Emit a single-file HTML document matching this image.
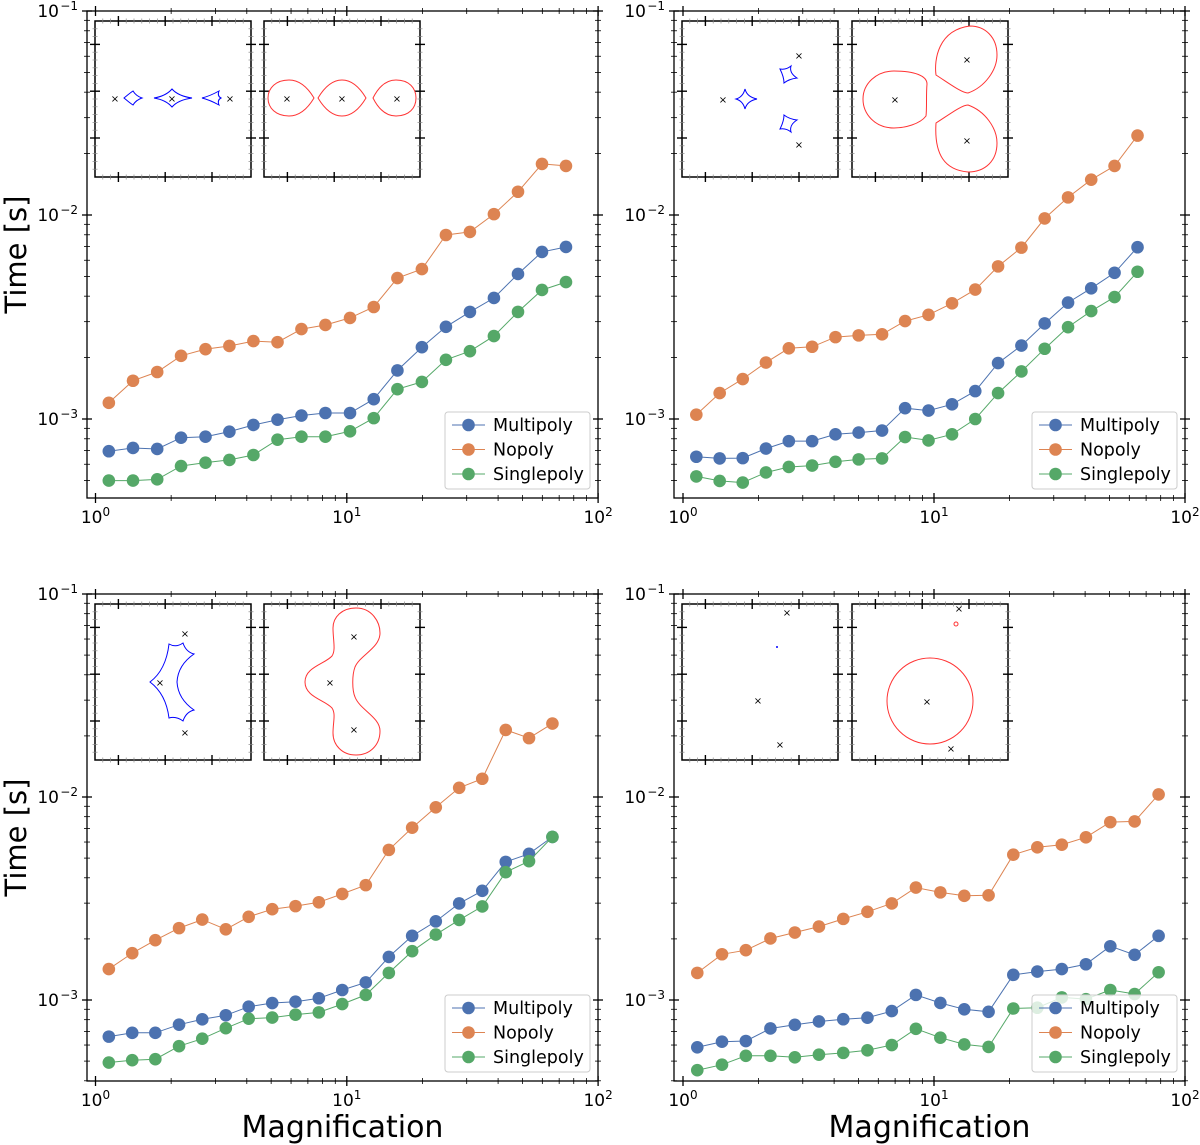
<!DOCTYPE html>
<html><head><meta charset="utf-8"><style>
body{margin:0;background:#fff;}
svg{display:block;font-family:"DejaVu Sans","Liberation Sans",sans-serif;}
</style></head><body>
<svg id="fig" width="1200" height="1145" viewBox="0 0 1200 1145" xmlns="http://www.w3.org/2000/svg">
<rect width="1200" height="1145" fill="#fff"/>
<g id="insets">
 <g>
  <path d="M124,98 Q130,93 133,91 Q136,96 142,98 Q136,100 133,105 Q130,103 124,98 Z" fill="none" stroke="#00f" stroke-width="1"/>
  <path d="M154,98 Q166,96 172,89 Q178,96 192,98 Q178,100 172,107 Q166,100 154,98 Z" fill="none" stroke="#00f" stroke-width="1"/>
  <path d="M202,98 Q210,96 219,91 Q217,96 221,98 Q217,100 219,105 Q210,100 202,98 Z" fill="none" stroke="#00f" stroke-width="1"/>
  <text x="115" y="102" font-size="10" text-anchor="middle">×</text><text x="172" y="102" font-size="10" text-anchor="middle">×</text><text x="230" y="102" font-size="10" text-anchor="middle">×</text>
 </g>
 <g>
  <path d="M314,98 C308,88 300,80 289,80 C276,80 268,88 268,98 C268,108 276,116 289,116 C300,116 308,108 314,98 Z" fill="none" stroke="#f33" stroke-width="1"/>
  <path d="M318,98 C324,88 332,80 342,80 C352,80 360,88 366,98 C360,108 352,116 342,116 C332,116 324,108 318,98 Z" fill="none" stroke="#f33" stroke-width="1"/>
  <path d="M373,98 C378,88 385,80 396,80 C409,80 416,88 416,98 C416,108 409,116 396,116 C385,116 378,108 373,98 Z" fill="none" stroke="#f33" stroke-width="1"/>
  <text x="287" y="102" font-size="10" text-anchor="middle">×</text><text x="342" y="102" font-size="10" text-anchor="middle">×</text><text x="397" y="102" font-size="10" text-anchor="middle">×</text>
 </g>
 <g>
  <path d="M736,99 Q743,97 745,89 Q747,97 757,99 Q747,101 745,109 Q743,101 736,99 Z" fill="none" stroke="#00f" stroke-width="1"/>
  <path d="M780,69 Q786,70 791,66 Q789,73 797,78 Q789,79 784,83 Q784,77 780,69 Z" fill="none" stroke="#00f" stroke-width="1"/>
  <path d="M780,129 Q784,121 784,115 Q789,119 797,120 Q789,125 791,132 Q786,128 780,129 Z" fill="none" stroke="#00f" stroke-width="1"/>
  <text x="723" y="103" font-size="10" text-anchor="middle">×</text><text x="799" y="59" font-size="10" text-anchor="middle">×</text><text x="799" y="148" font-size="10" text-anchor="middle">×</text>
 </g>
 <g>
  <path d="M894,71 C915,71 927,76 927,84 C926,95 927,108 926,116 C920,124 905,128 894,128 C875,128 863,114 863,99 C863,84 876,71 894,71 Z" fill="none" stroke="#f33" stroke-width="1"/>
  <path d="M970,26 C985,26 997,37 997,55 C997,70 985,87 968,93 C962,93 950,84 936,75 C934,60 938,30 970,26 Z" fill="none" stroke="#f33" stroke-width="1"/>
  <path d="M968,105 C985,111 997,128 997,143 C997,161 985,172 968,172 C945,170 934,155 936,123 C950,114 962,105 968,105 Z" fill="none" stroke="#f33" stroke-width="1"/>
  <text x="895" y="103" font-size="10" text-anchor="middle">×</text><text x="967" y="63" font-size="10" text-anchor="middle">×</text><text x="967" y="144" font-size="10" text-anchor="middle">×</text>
 </g>
 <g>
  <path d="M150,682 Q166,670 169,644 Q176,648 183,643 Q186,652 194,654 Q178,665 177,682 Q178,699 194,710 Q186,712 183,721 Q176,716 169,718 Q166,694 150,682 Z" fill="none" stroke="#00f" stroke-width="1"/>
  <text x="185" y="637" font-size="10" text-anchor="middle">×</text><text x="160" y="686" font-size="10" text-anchor="middle">×</text><text x="185" y="736" font-size="10" text-anchor="middle">×</text>
 </g>
 <g>
  <path d="M356,608 C372,608 380,622 380,633 C380,648 360,655 355,667 C352,675 352,690 355,697 C360,710 380,717 380,731 C380,745 370,755 356,755 C342,755 333,745 333,733 C333,722 336,714 332,708 C325,700 305,697 305,682 C305,667 325,664 332,656 C336,650 333,640 333,628 C333,617 342,608 356,608 Z" fill="none" stroke="#f33" stroke-width="1"/>
  <text x="354" y="640" font-size="10" text-anchor="middle">×</text><text x="330" y="686" font-size="10" text-anchor="middle">×</text><text x="354" y="733" font-size="10" text-anchor="middle">×</text>
 </g>
 <g>
  <circle cx="777" cy="647" r="1" fill="#00f"/>
  <text x="787" y="616" font-size="10" text-anchor="middle">×</text><text x="758" y="704" font-size="10" text-anchor="middle">×</text><text x="780" y="748" font-size="10" text-anchor="middle">×</text>
 </g>
 <g>
  <circle cx="930" cy="701" r="43" fill="none" stroke="#f33" stroke-width="1"/>
  <circle cx="956" cy="624" r="2" fill="none" stroke="#f33" stroke-width="1"/>
  <text x="927" y="705" font-size="10" text-anchor="middle">×</text><text x="959" y="612" font-size="10" text-anchor="middle">×</text><text x="951" y="752" font-size="10" text-anchor="middle">×</text>
 </g>
</g>
</svg>
<script>
const magTL = [1.13,1.41,1.76,2.19,2.74,3.41,4.25,5.30,6.60,8.22,10.3,12.8,15.9,19.9,24.8,30.9,38.5,48.0,59.8,74.5];
const multiTL = [6.95e-4,7.21e-4,7.13e-4,8.10e-4,8.19e-4,8.67e-4,9.35e-4,9.92e-4,1.04e-3,1.07e-3,1.07e-3,1.25e-3,1.73e-3,2.25e-3,2.83e-3,3.35e-3,3.92e-3,5.14e-3,6.59e-3,6.97e-3];
const noTL = [1.20e-3,1.54e-3,1.70e-3,2.04e-3,2.20e-3,2.28e-3,2.41e-3,2.38e-3,2.76e-3,2.89e-3,3.13e-3,3.54e-3,4.91e-3,5.43e-3,7.98e-3,8.26e-3,1.01e-2,1.30e-2,1.78e-2,1.74e-2];
const singleTL = [4.99e-4,4.99e-4,5.06e-4,5.88e-4,6.11e-4,6.30e-4,6.66e-4,7.92e-4,8.19e-4,8.19e-4,8.70e-4,1.01e-3,1.40e-3,1.52e-3,1.95e-3,2.15e-3,2.55e-3,3.35e-3,4.29e-3,4.69e-3];

const magTR = [1.13,1.40,1.73,2.14,2.64,3.27,4.05,5.01,6.21,7.67,9.51,11.8,14.6,18.0,22.3,27.6,34.2,42.3,52.4,64.7];
const multiTR = [6.53e-4,6.41e-4,6.43e-4,7.16e-4,7.79e-4,7.79e-4,8.41e-4,8.58e-4,8.78e-4,1.13e-3,1.10e-3,1.18e-3,1.37e-3,1.88e-3,2.29e-3,2.94e-3,3.72e-3,4.37e-3,5.21e-3,6.95e-3];
const noTR = [1.05e-3,1.34e-3,1.57e-3,1.89e-3,2.22e-3,2.26e-3,2.52e-3,2.57e-3,2.60e-3,3.02e-3,3.24e-3,3.69e-3,4.31e-3,5.60e-3,6.92e-3,9.62e-3,1.22e-2,1.49e-2,1.74e-2,2.45e-2];
const singleTR = [5.23e-4,4.97e-4,4.88e-4,5.47e-4,5.82e-4,5.91e-4,6.17e-4,6.34e-4,6.41e-4,8.16e-4,7.85e-4,8.41e-4,1.00e-3,1.34e-3,1.71e-3,2.21e-3,2.82e-3,3.38e-3,3.96e-3,5.27e-3];

const magBL = [1.13,1.40,1.73,2.15,2.66,3.30,4.07,5.05,6.25,7.74,9.59,11.9,14.7,18.2,22.6,28.0,34.6,42.9,53.1,65.8];
const multiBL = [6.60e-4,6.89e-4,6.89e-4,7.56e-4,8.03e-4,8.41e-4,9.27e-4,9.66e-4,9.81e-4,1.02e-3,1.12e-3,1.22e-3,1.63e-3,2.07e-3,2.44e-3,2.99e-3,3.45e-3,4.79e-3,5.25e-3,6.36e-3];
const noBL = [1.42e-3,1.70e-3,1.97e-3,2.26e-3,2.49e-3,2.23e-3,2.57e-3,2.80e-3,2.90e-3,3.03e-3,3.33e-3,3.68e-3,5.49e-3,7.06e-3,8.90e-3,1.11e-2,1.23e-2,2.14e-2,1.95e-2,2.30e-2];
const singleBL = [4.92e-4,5.05e-4,5.11e-4,5.92e-4,6.45e-4,7.26e-4,8.09e-4,8.19e-4,8.47e-4,8.69e-4,9.55e-4,1.06e-3,1.36e-3,1.74e-3,2.10e-3,2.48e-3,2.89e-3,4.26e-3,4.83e-3,6.36e-3];

const magBR = [1.14,1.43,1.78,2.23,2.79,3.48,4.35,5.43,6.79,8.47,10.6,13.2,16.5,20.7,25.8,32.3,40.3,50.4,63.0,78.5];
const multiBR = [5.85e-4,6.23e-4,6.28e-4,7.24e-4,7.55e-4,7.84e-4,8.04e-4,8.18e-4,8.82e-4,1.06e-3,9.67e-4,9.00e-4,8.75e-4,1.33e-3,1.38e-3,1.42e-3,1.50e-3,1.84e-3,1.67e-3,2.07e-3];
const noBR = [1.36e-3,1.68e-3,1.76e-3,2.01e-3,2.15e-3,2.30e-3,2.51e-3,2.72e-3,2.99e-3,3.58e-3,3.39e-3,3.26e-3,3.28e-3,5.20e-3,5.65e-3,5.82e-3,6.33e-3,7.52e-3,7.58e-3,1.03e-2];
const singleBR = [4.51e-4,4.80e-4,5.31e-4,5.31e-4,5.22e-4,5.38e-4,5.49e-4,5.65e-4,6.00e-4,7.21e-4,6.52e-4,6.04e-4,5.87e-4,9.08e-4,9.16e-4,1.03e-3,1.01e-3,1.12e-3,1.07e-3,1.37e-3];

const seriesNames = ["Multipoly","Nopoly","Singlepoly"];
const xTickLabels = ["0","1","2"];
const yTickExps = ["-1","-2","-3"];

const NS = "http://www.w3.org/2000/svg";
const svg = document.getElementById('fig');
const colors = ["#4c72b0","#dd8452","#55a868"];

function mk(tag, attrs, parent){const e=document.createElementNS(NS,tag);for(const k in attrs)e.setAttribute(k,attrs[k]);(parent||svg).appendChild(e);return e;}

function panel(id, box, mags, series){
  const g = mk('g',{});
  
  
  const xs = m => box.x0 + Math.log10(m)*box.xdec;
  const ys = v => box.y1 + (-1 - Math.log10(v))*box.ydec;
  const fr = mk('rect',{x:box.l,y:box.t,width:box.r-box.l,height:box.b-box.t,fill:'none',stroke:'#000','stroke-width':1.3},g);
  
  
  for(let d=0; d<=2; d++){
    for(let k=1;k<=9;k++){
      if(d==2 && k>1) break;
      const v = Math.pow(10,d)*k; const px = xs(v);
      if(px<box.l-0.5||px>box.r+0.5) continue;
      const L = k==1?5:3;
      mk('line',{x1:px,x2:px,y1:box.b-L,y2:box.b+L,stroke:'#000','stroke-width':k==1?1.3:0.8},g);
      mk('line',{x1:px,x2:px,y1:box.t-L,y2:box.t+L,stroke:'#000','stroke-width':k==1?1.3:0.8},g);
    }
  }
  xTickLabels.forEach((lab,i)=>{
    const t = mk('text',{x:xs(Math.pow(10,+lab)),y:box.b+25,'font-size':17,'text-anchor':'middle'},g);
    
    
    t.innerHTML = '10<tspan dy="-7" font-size="12">'+lab+'</tspan>';
  });
  for(let d=-4; d<=-1; d++){
    for(let k=1;k<=9;k++){
      const v = Math.pow(10,d)*k; const py = ys(v);
      if(py<box.t-0.5||py>box.b+0.5) continue;
      const L = k==1?5:3;
      mk('line',{x1:box.l-L,x2:box.l+L,y1:py,y2:py,stroke:'#000','stroke-width':k==1?1.3:0.8},g);
      mk('line',{x1:box.r-L,x2:box.r+L,y1:py,y2:py,stroke:'#000','stroke-width':k==1?1.3:0.8},g);
    }
  }
  yTickExps.forEach(lab=>{
    const t = mk('text',{x:box.l-28,y:ys(Math.pow(10,+lab))+6,'font-size':17,'text-anchor':'end'},g);
    
    
    t.textContent = '10';
    const s = mk('text',{x:box.l-9,y:ys(Math.pow(10,+lab))-1,'font-size':12,'text-anchor':'end'},g);
    
    
    s.textContent = '\u2212'+lab.slice(1);
  });
  series.forEach((vals,si)=>{
    const sg = mk('g',{},g);
    
    
    const pts = vals.map((v,i)=>xs(mags[i]).toFixed(1)+','+ys(v).toFixed(1)).join(' ');
    mk('polyline',{points:pts,fill:'none',stroke:colors[si],'stroke-width':1},sg);
    vals.forEach((v,i)=>{
      const c = mk('circle',{cx:xs(mags[i]),cy:ys(v),r:6.3,fill:colors[si]},sg);
      
      
    });
  });
  const lg = mk('g',{},g);
  
  
  const lx = box.r-153, ly = box.b-86;
  mk('rect',{x:lx,y:ly,width:145,height:77,rx:3,fill:'rgba(255,255,255,0.8)',stroke:'#ccc','stroke-width':1},lg);
  seriesNames.forEach((n,i)=>{
    const ey = ly+13+i*24.5;
    const e = mk('g',{},lg);
    
    
    mk('line',{x1:lx+7,x2:lx+40,y1:ey,y2:ey,stroke:colors[i],'stroke-width':1},e);
    mk('circle',{cx:lx+23.5,cy:ey,r:6.3,fill:colors[i]},e);
    const t = mk('text',{x:lx+48,y:ey+6,'font-size':17.5},e);
    t.textContent = n;
  });
  if(box.ylab){
    const t = mk('text',{x:0,y:0,'font-size':29,'text-anchor':'middle',transform:'translate(26,'+((box.t+box.b)/2)+') rotate(-90)'},g);
    
    
    t.textContent = 'Time [s]';
  }
  if(box.xlab){
    const t = mk('text',{x:(box.l+box.r)/2,y:1137,'font-size':30,'text-anchor':'middle'},g);
    
    
    t.textContent = 'Magnification';
  }
}

function insetBox(x,y,w,h){
  const g = mk('g',{});
  
  
  mk('rect',{x:x,y:y,width:w,height:h,fill:'none',stroke:'#000','stroke-width':1.5},g);
  for(let i=1;i<20;i++){
    const px = x + i*w/20, py = y + i*h/20;
    const maj = (i%6==3);
    const L = maj?5:2.5, sw = maj?1.4:0.7, col = maj?'#000':'#888';
    mk('line',{x1:px,x2:px,y1:y-L,y2:y+L,stroke:col,'stroke-width':sw},g);
    mk('line',{x1:px,x2:px,y1:y+h-L,y2:y+h+L,stroke:col,'stroke-width':sw},g);
    mk('line',{x1:x-L,x2:x+L,y1:py,y2:py,stroke:col,'stroke-width':sw},g);
    mk('line',{x1:x+w-L,x2:x+w+L,y1:py,y2:py,stroke:col,'stroke-width':sw},g);
  }
}

const insets = document.getElementById('insets');
panel('tl',{l:87,r:598,t:11,b:498,x0:95.5,xdec:251.3,y1:11,ydec:204,ylab:true},magTL,[multiTL,noTL,singleTL]);
panel('tr',{l:674,r:1185,t:11,b:498,x0:683,xdec:251,y1:11,ydec:204},magTR,[multiTR,noTR,singleTR]);
panel('bl',{l:87,r:598,t:594,b:1081,x0:95.5,xdec:251.3,y1:594,ydec:203,ylab:true,xlab:true},magBL,[multiBL,noBL,singleBL]);
panel('br',{l:674,r:1185,t:594,b:1081,x0:683,xdec:251,y1:594,ydec:203,xlab:true},magBR,[multiBR,noBR,singleBR]);
[[95,21],[264,21],[682,21],[852,21],[95,604],[264,604],[682,604],[852,604]].forEach(p=>{
  mk('rect',{x:p[0],y:p[1],width:156,height:156,fill:'#fff'});
  insetBox(p[0],p[1],156,156);
});
svg.appendChild(insets);
</script>
</body></html>
